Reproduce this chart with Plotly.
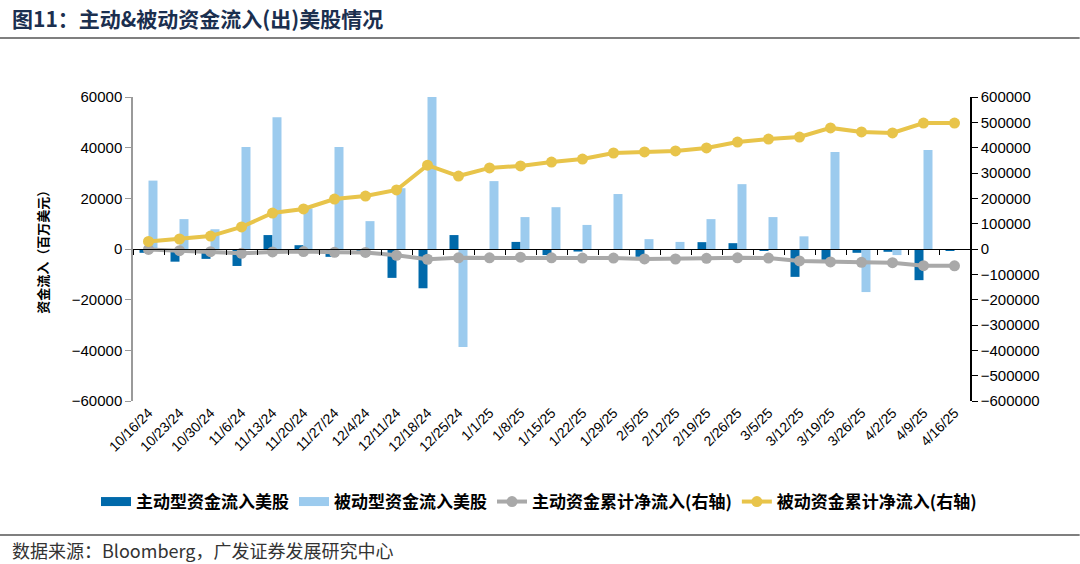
import plotly.graph_objects as go

dates = ["10/16/24","10/23/24","10/30/24","11/6/24","11/13/24","11/20/24","11/27/24","12/4/24",
         "12/11/24","12/18/24","12/25/24","1/1/25","1/8/25","1/15/25","1/22/25","1/29/25","2/5/25",
         "2/12/25","2/19/25","2/26/25","3/5/25","3/12/25","3/19/25","3/26/25","4/2/25","4/9/25","4/16/25"]

active_flow = [-1500, -5000, -3900, -6700, 5500, 1500, -3100, -500, -11400, -15500, 5500, -200,
               2800, -2400, -1000, -100, -3100, 0, 2700, 2300, -700, -11000, -4300, -1500, -1100,
               -12300, -500]
passive_flow = [27000, 11800, 7800, 40300, 52000, 16000, 40300, 11000, 24000, 98000, -38700, 26800,
                12600, 16500, 9500, 21700, 3900, 2800, 11800, 25600, 12600, 5000, 38300, -17000,
                -2400, 39100, -300]
active_cum = [-1500, -6500, -10400, -17000, -11500, -10000, -13000, -13500, -25000, -40500, -35000,
              -35000, -32500, -35000, -36000, -36000, -39000, -39500, -37000, -35000, -36000, -47000,
              -51000, -52500, -54000, -66000, -66500]
passive_cum = [30000, 39500, 51000, 87000, 142000, 158000, 197000, 209000, 233000, 331000, 288000,
               320000, 328000, 343000, 355000, 379000, 383000, 387000, 399000, 422000, 434000,
               442000, 478000, 462000, 458000, 497000, 497000]

left_ticks = [60000, 40000, 20000, 0, -20000, -40000, -60000]
right_ticks = [600000, 500000, 400000, 300000, 200000, 100000, 0, -100000, -200000, -300000,
               -400000, -500000, -600000]

names = ["主动型资金流入美股", "被动型资金流入美股", "主动资金累计净流入(右轴)", "被动资金累计净流入(右轴)"]
title_text = "图11：主动&被动资金流入(出)美股情况"
source_text = "数据来源：Bloomberg，广发证券发展研究中心"
yaxis_title = "资金流入（百万美元）"

CJK = "Noto Sans CJK SC"
NUM = "Liberation Sans, Arial"
C_ACT = "#0069AA"
C_PAS = "#9CCBEE"
C_GRAY = "#A9A9A9"
C_YEL = "#E8C44A"

fig = go.Figure()
fig.add_trace(go.Bar(x=dates, y=active_flow, name=names[0], marker_color=C_ACT,
                     marker_line_width=0, showlegend=False, legendgroup="a"))
fig.add_trace(go.Bar(x=dates, y=passive_flow, name=names[1], marker_color=C_PAS,
                     marker_line_width=0, showlegend=False, legendgroup="p"))
# legend swatches for the bar series (wide rectangles as in the reference)
fig.add_trace(go.Scatter(x=[dates[0]], y=[None], name=names[0], mode="lines", legendgroup="a",
                         line=dict(color=C_ACT, width=9), hoverinfo="skip"))
fig.add_trace(go.Scatter(x=[dates[0]], y=[None], name=names[1], mode="lines", legendgroup="p",
                         line=dict(color=C_PAS, width=9), hoverinfo="skip"))
fig.add_trace(go.Scatter(x=dates, y=active_cum, name=names[2], yaxis="y2", mode="lines+markers",
                         line=dict(color=C_GRAY, width=4), marker=dict(size=11, color=C_GRAY)))
fig.add_trace(go.Scatter(x=dates, y=passive_cum, name=names[3], yaxis="y2", mode="lines+markers",
                         line=dict(color=C_YEL, width=4), marker=dict(size=11, color=C_YEL)))
# helper trace for the zero-line category axis
fig.add_trace(go.Scatter(x=dates, y=[None] * len(dates), xaxis="x2", showlegend=False,
                         hoverinfo="skip"))

fig.update_layout(
    width=1080, height=564,
    margin=dict(l=133, r=110, t=97, b=163),
    paper_bgcolor="white", plot_bgcolor="white",
    barmode="group", bargap=0.42, bargroupgap=0.0,
    font=dict(family=NUM, size=15, color="#000000"),
    xaxis=dict(type="category", categoryarray=dates, range=[-0.5, len(dates) - 0.5],
               tickangle=-45, showline=False, ticks="", showgrid=False, automargin=False,
               tickfont=dict(family=NUM, size=14, color="#000")),
    xaxis2=dict(type="category", categoryarray=dates, range=[-0.5, len(dates) - 0.5],
                overlaying="x", anchor="free", position=0.5, side="bottom",
                showline=True, linecolor="#000", linewidth=1, ticks="outside",
                tickson="boundaries", ticklen=5, tickcolor="#000", showticklabels=False,
                showgrid=False),
    yaxis=dict(range=[-60000, 60000], tickvals=left_ticks, tickformat="d", showgrid=False,
               zeroline=False, showline=True, linecolor="#9A9A9A", linewidth=1.5,
               ticks="outside", ticklen=6, tickcolor="#9A9A9A", automargin=False,
               tickfont=dict(family=NUM, size=15, color="#000")),
    yaxis2=dict(range=[-600000, 600000], tickvals=right_ticks, tickformat="d", overlaying="y",
                side="right", showgrid=False, zeroline=False, showline=True, linecolor="#000",
                linewidth=1.5, ticks="outside", ticklen=6, tickcolor="#000", automargin=False,
                tickfont=dict(family=NUM, size=15, color="#000")),
    legend=dict(orientation="h", x=(96 - 133) / 837, xanchor="left",
                y=(401 - 502) / 304, yanchor="middle",
                font=dict(family=CJK, size=17, color="#000", weight="bold"), itemwidth=30,
                traceorder="normal", tracegroupgap=0),
    showlegend=True,
)

fig.add_annotation(text="<b>" + title_text + "</b>", xref="paper", yref="paper",
                   x=-0.147, y=1.26, xanchor="left", yanchor="middle", showarrow=False,
                   font=dict(family=CJK, size=21, color="#1B2F4F"))
fig.add_annotation(text=source_text, xref="paper", yref="paper",
                   x=-0.147, y=-0.49, xanchor="left", yanchor="middle", showarrow=False,
                   font=dict(family=CJK, size=18, color="#333"))
fig.add_annotation(text="<b>" + yaxis_title + "</b>", xref="paper", yref="paper",
                   x=-0.109, y=0.5, textangle=-90, xanchor="center", yanchor="middle",
                   showarrow=False, font=dict(family=CJK, size=13, color="#000"))

fig.add_shape(type="line", xref="paper", yref="paper", x0=-0.159, x1=1.131, y0=1.194, y1=1.194,
              line=dict(color="#7F7F7F", width=2))
fig.add_shape(type="line", xref="paper", yref="paper", x0=-0.159, x1=1.131, y0=-0.441, y1=-0.441,
              line=dict(color="#7F7F7F", width=2))

fig.write_html("out.html", config={"displayModeBar": False},
               post_script="document.body.style.margin='0';")
